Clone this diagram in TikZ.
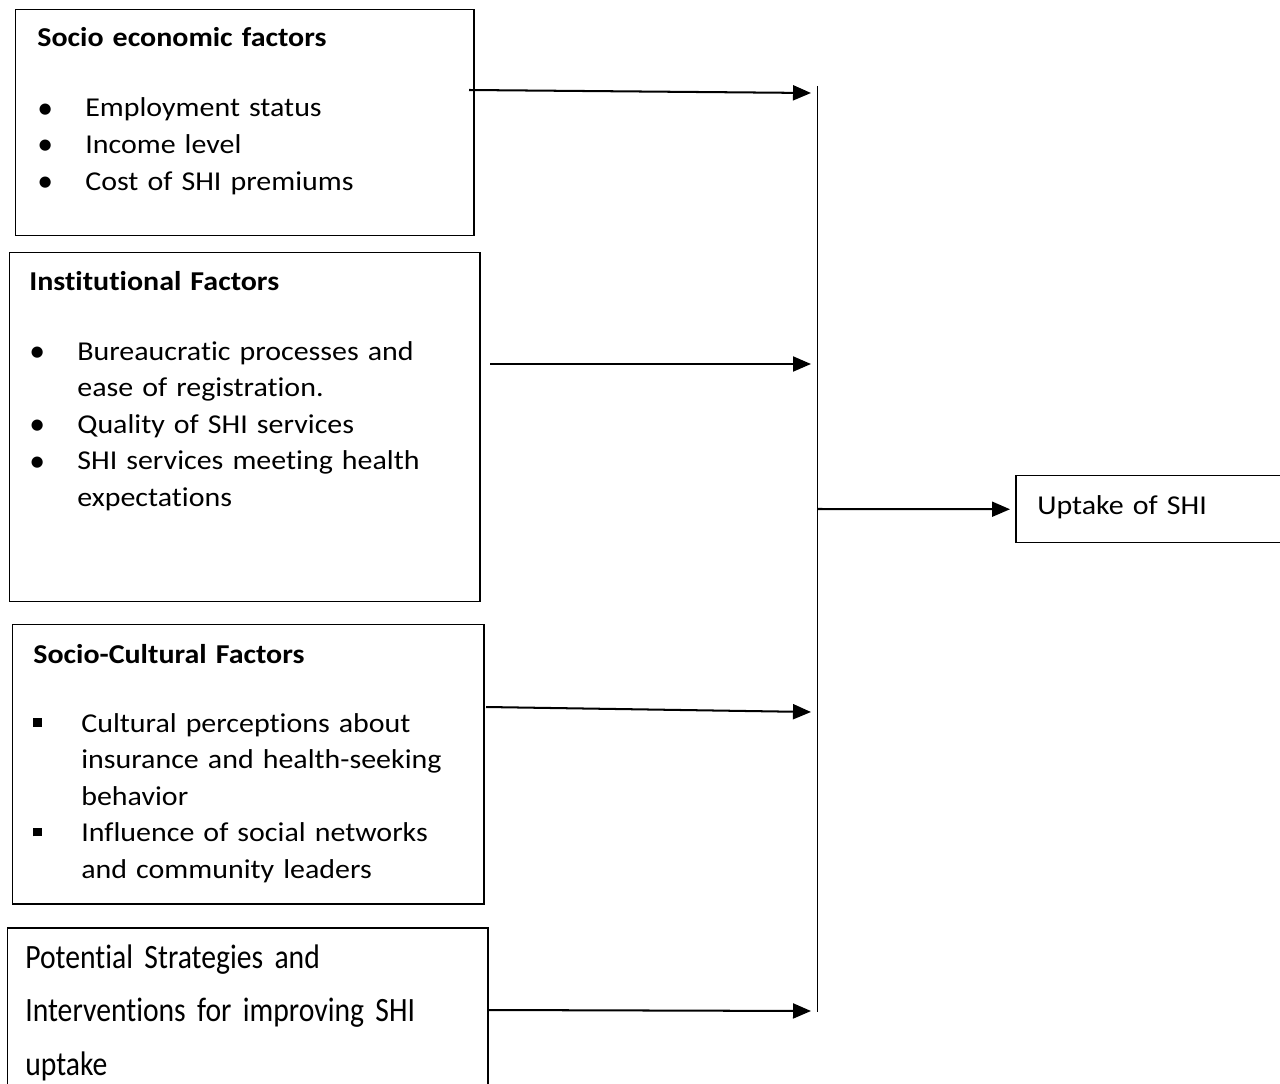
\documentclass[tikz,border=0pt]{standalone}
\usepackage{fontspec}
\setmainfont{Carlito}[FakeStretch=1.1, WordSpace=0.8, Ligatures=NoCommon]
\newfontfamily\narrowfont{Carlito}[FakeStretch=0.87, WordSpace=0.85, Ligatures=NoCommon]
\newfontfamily\bulletfont{Carlito}
\usepackage{tikz}
\usetikzlibrary{arrows.meta}
\tikzset{every node/.append style={font=\fontsize{15.5}{20.8}\selectfont}}
\tikzset{factorbox/.style={draw, line width=0.85pt, anchor=north west, inner sep=0pt}}
\tikzset{txt/.style={anchor=base west, inner sep=0pt, text width=9cm, align=left}}
\tikzset{link/.style={->, line width=1.15pt}}
\newcommand{\rnd}{\makebox[0.96cm][l]{\raisebox{-0.8pt}{\bulletfont\fontsize{18}{18}\selectfont\textbullet}}}
\newcommand{\sqr}{\makebox[0.96cm][l]{\rule[3pt]{5pt}{5pt}}}
\newcommand{\ind}{\hspace*{0.96cm}}

\begin{document}
\begin{tikzpicture}[x=0.02cm, y=-0.02cm, >={Triangle[length=0.36cm, width=0.3cm]}]
    \useasboundingbox (0,0) rectangle (1280,1084);
    % the four groups of factors
    \node[factorbox, minimum width={458*0.02cm}, minimum height={226*0.02cm}] (socio) at (15,9) {};
    \node[factorbox, minimum width={470*0.02cm}, minimum height={349*0.02cm}] (inst) at (9,252) {};
    \node[factorbox, minimum width={471*0.02cm}, minimum height={279*0.02cm}] (cult) at (12,624) {};
    \node[factorbox, minimum width={480*0.02cm}, minimum height={170*0.02cm}] (strat) at (7,927) {};
    \node[factorbox, minimum width={290*0.02cm}, minimum height={67*0.02cm}] (uptake) at (1015,475) {};
    \node[txt] (sociotitle) at (37,47) {\textbf{Socio economic factors}};
    \node[txt] (sociolist) at (37,117) {\rnd Employment status\\ \rnd Income level\\ \rnd Cost of SHI premiums};
    \node[txt] (insttitle) at (29,291) {\textbf{Institutional Factors}};
    \node[txt] (instlist) at (29,360) {\rnd Bureaucratic processes and\\ \ind ease of registration.\\ \rnd Quality of SHI services\\ \rnd SHI services meeting health\\ \ind expectations};
    \node[txt] (culttitle) at (33,663) {\textbf{Socio-Cultural Factors}};
    \node[txt] (cultlist) at (33,732) {\sqr Cultural perceptions about\\ \ind insurance and health-seeking\\ \ind behavior\\ \sqr Influence of social networks\\ \ind and community leaders};
    \node[txt, font=\narrowfont\fontsize{19.4}{30.7}\selectfont] (strattext) at (25,968) {Potential Strategies and\\ Interventions for improving SHI\\ uptake};
    \node[txt] (uptaketext) at (1037,514) {Uptake of SHI};
    % the bus on the right
    \coordinate (bustop) at (817,86);
    \coordinate (busbot) at (817,1012);
    \coordinate (busmid) at (817,509);
    \draw[line width=0.5pt] (bustop) -- (busbot);
    \coordinate (s1) at (469,90);  \coordinate (e1) at (811,93);
    \coordinate (s2) at (490,364); \coordinate (e2) at (811,364);
    \coordinate (s3) at (486,707); \coordinate (e3) at (811,712);
    \coordinate (s4) at (489,1010); \coordinate (e4) at (811,1011);
    \draw[link] (s1) -- (e1);
    \draw[link] (s2) -- (e2);
    \draw[link] (s3) -- (e3);
    \draw[link] (s4) -- (e4);
    \draw[link, shorten >=0.1cm] (busmid) -- (uptake.west);
\end{tikzpicture}
\end{document}
